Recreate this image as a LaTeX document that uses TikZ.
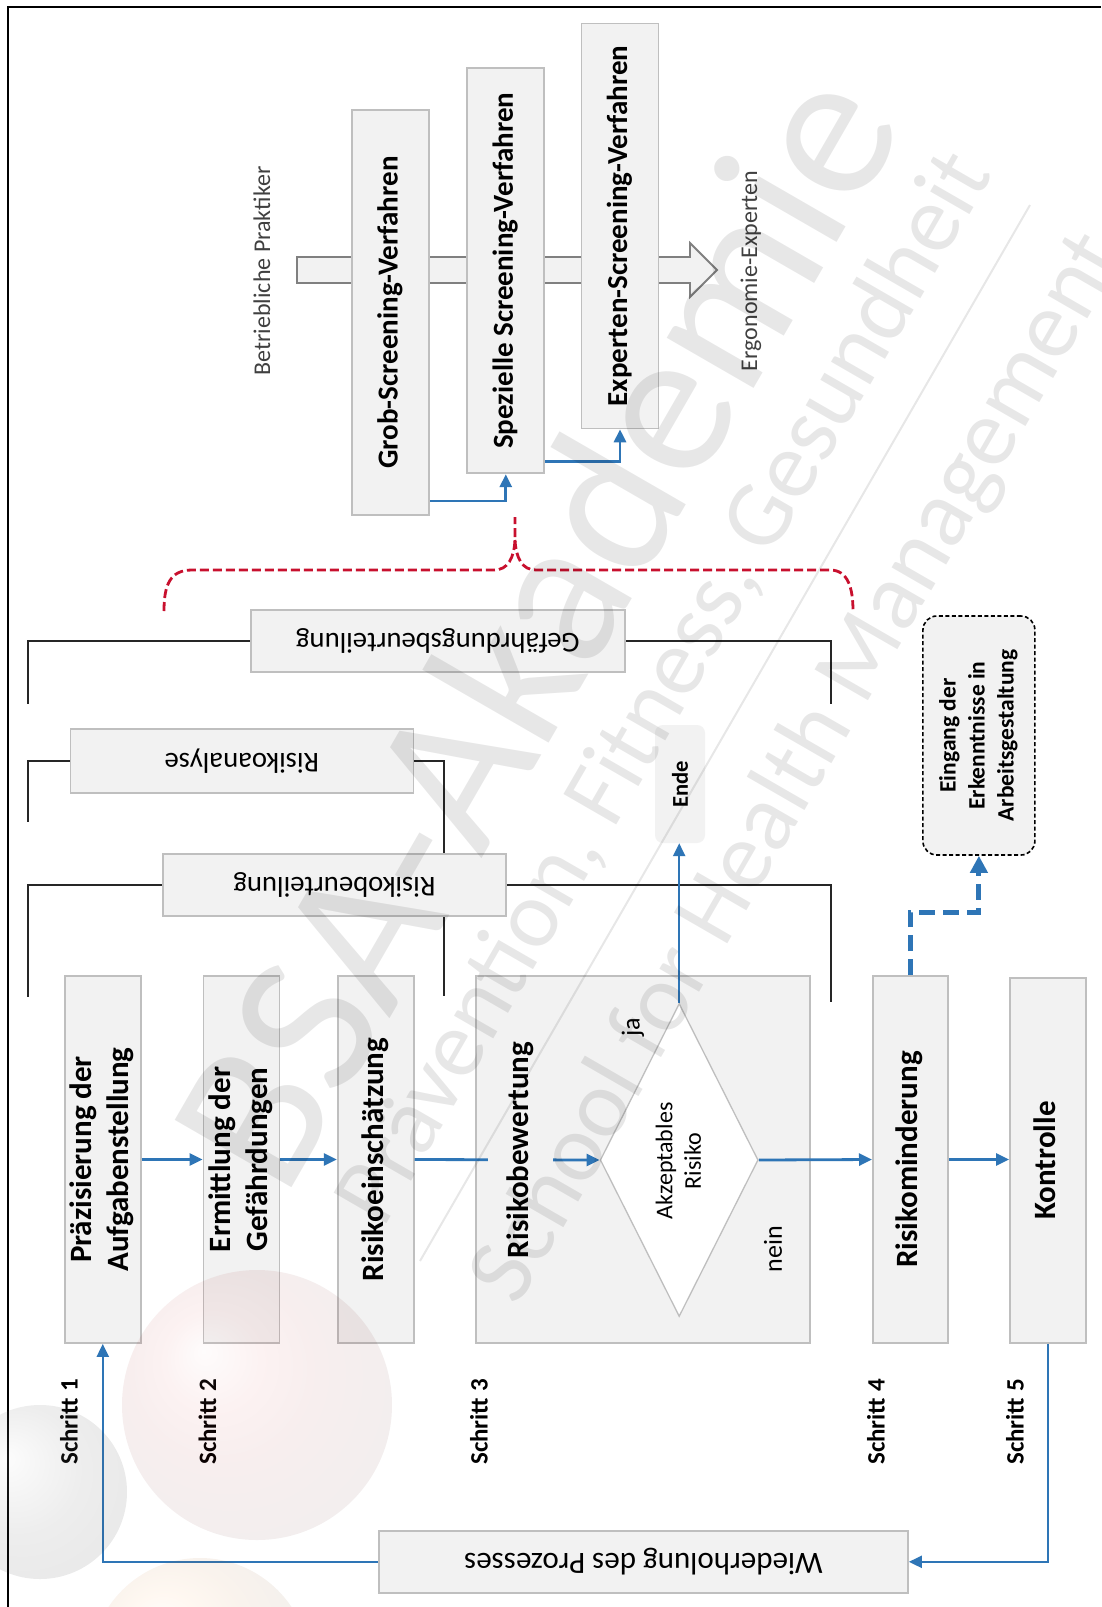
\documentclass[tikz,border=0pt]{standalone}
\usepackage{fontspec}
\setmainfont{Carlito}
\usetikzlibrary{arrows.meta,calc,shapes.geometric}
\definecolor{boxfill}{HTML}{F2F2F2}
\definecolor{boxline}{HTML}{BFBFBF}
\definecolor{arrowgray}{HTML}{808080}
\definecolor{flowblue}{HTML}{2E75B6}
\definecolor{bracered}{RGB}{200,16,46}
\definecolor{darktext}{HTML}{404040}
\pgfdeclarelayer{bg}
\pgfsetlayers{bg,main}
\newcommand{\myfs}[2]{\fontsize{#1}{#2}\selectfont}
\newcommand{\rtxt}[1]{\rotatebox{90}{\begin{tabular}{@{}c@{}}#1\end{tabular}}}
\begin{document}
\begin{tikzpicture}[x=1pt,y=-1pt,
  stepbox/.style={draw=boxline, line width=1.8pt, fill=boxfill, inner sep=0pt,
    minimum width=76pt, minimum height=367pt, font=\myfs{31}{37}\bfseries},
  scrbox/.style={draw=boxline, line width=1.8pt, fill=boxfill, inner sep=0pt,
    minimum width=77pt, minimum height=405pt, font=\myfs{29}{35}\bfseries},
  labbox/.style={draw=boxline, line width=1.8pt, fill=boxfill, inner sep=0pt,
    minimum height=62pt, font=\myfs{28.7}{34}},
  flow/.style={draw=flowblue, line width=2.8pt, -{Triangle[length=13pt,width=12pt]}},
  brk/.style={draw=black!85, line width=2pt},
  redbrace/.style={draw=bracered, line width=2.8pt, dash pattern=on 9pt off 4pt},
  schritt/.style={font=\myfs{25}{30}\bfseries},
  wm/.style={text=black, opacity=0.095}
]
\useasboundingbox (0,0) rectangle (1101,1607);
\begin{pgfonlayer}{bg}
\fill[white] (0,0) rectangle (1101,1607);
\end{pgfonlayer}

% frame
\draw[line width=2.6pt, black] (8,1607) -- (8,7) -- (1101,7);

% broad grey arrow behind screening boxes
\draw[draw=arrowgray, fill=boxfill, line width=1.8pt]
  (297,257) -- (690,257) -- (690,243) -- (717,270) -- (690,297) -- (690,283) -- (297,283) -- cycle;

% screening boxes
\node[scrbox] (grob) at (390.7,312.5) {\rtxt{Grob-Screening-Verfahren}};
\node[scrbox] (spez) at (505.8,270.8) {\rtxt{Spezielle Screening-Verfahren}};
\node[scrbox] (expt) at (620,225.9) {\rtxt{Experten-Screening-Verfahren}};
\node[font=\myfs{24}{28}, text=darktext] (prak) at (262,271) {\rotatebox{90}{Betriebliche Praktiker}};
\node[font=\myfs{24}{28}, text=darktext] (ergo) at (751,271) {\rotatebox{90}{Ergonomie-Experten}};
\draw[flow] ($(grob.south east)+(0,-15)$) -| (spez.south);
\draw[flow] ($(spez.south east)+(0,-13)$) -| (expt.south);

% red dashed brace
\draw[redbrace] (164,611) .. controls (164,585) and (170,570) .. (192,570) -- (494,570)
  .. controls (508,570) and (514,558) .. (515,540) -- (515,517);
\draw[redbrace] (515,540) .. controls (516,558) and (522,570) .. (536,570) -- (830,570)
  .. controls (848,570) and (853,588) .. (853,611);

% bracket labels
\node[labbox, minimum width=374pt] (gef) at (437.9,640.9) {\rotatebox{180}{Gefährdungsbeurteilung}};
\node[labbox, minimum width=343pt, minimum height=64pt] (ana) at (241.9,761.2) {\rotatebox{180}{Risikoanalyse}};
\node[labbox, minimum width=343pt] (beu) at (334.5,885) {\rotatebox{180}{Risikobeurteilung}};
\coordinate (gefL) at (28,704);
\coordinate (gefR) at (831,704);
\coordinate (anaL) at (28,822);
\coordinate (anaR) at (444,996);
\coordinate (beuL) at (28,997);
\coordinate (beuR) at (831,1002);
\begin{pgfonlayer}{bg}
\draw[brk] (gef.west) -| (gefL);
\draw[brk] (gef.east) -| (gefR);
\draw[brk] (ana.west) -| (anaL);
\draw[brk] (ana.east) -| (anaR);
\draw[brk] (beu.west) -| (beuL);
\draw[brk] (beu.east) -| (beuR);
\end{pgfonlayer}

% process steps
\node[stepbox] (pra) at (102.8,1159.5) {\rtxt{Präzisierung der\\Aufgabenstellung}};
\node[stepbox] (erm) at (241.5,1159.5) {\rtxt{Ermittlung der\\Gefährdungen}};
\node[stepbox] (rein) at (375.7,1159.5) {\rtxt{Risikoeinschätzung}};
\node[stepbox, minimum width=334.4pt] (rbew) at (642.8,1159.5) {};
\node[stepbox, minimum width=75pt] (rmin) at (910.4,1159.5) {\rtxt{Risikominderung}};
\node[stepbox, minimum height=365pt] (kon) at (1047.9,1160.5) {\rtxt{Kontrolle}};

\node[diamond, draw=boxline, line width=1.3pt, fill=white, minimum width=158pt,
  minimum height=313pt, inner sep=0pt] (dia) at (679.2,1160) {};
\node[font=\myfs{24}{28.5}] (akz) at (681,1161) {\rtxt{Akzeptables\\Risiko}};
\node[font=\myfs{26}{30}] (ja) at (633,1027) {\rotatebox{90}{ja}};
\node[font=\myfs{26}{30}] (nein) at (773,1249) {\rotatebox{90}{nein}};

\draw[flow] (pra.east) -- (erm.west);
\draw[flow] (erm.east) -- (rein.west);
\draw[flow] (rein.east) -- (dia.west);
\node[fill=boxfill, inner xsep=19pt, inner ysep=3pt, font=\myfs{31}{37}\bfseries]
  (rbewt) at (520,1150) {\rotatebox{90}{Risikobewertung}};
\draw[flow] (dia.east) -- (rmin.west);
\draw[flow] (rmin.east) -- (rmin.east -| kon.west);

% Ende
\node[fill=boxfill, rounded corners=8pt, minimum width=50pt, minimum height=118pt,
  inner sep=0pt, font=\myfs{22.6}{27}\bfseries] (ende) at (680,784) {\rotatebox{90}{Ende}};
\draw[flow, line width=2.5pt] (dia.north) -- (dia.north |- ende.south);

% Eingang
\node[draw=black, line width=1.6pt, dash pattern=on 4pt off 2.5pt, fill=boxfill,
  rounded corners=14pt, minimum width=112pt, minimum height=239pt, inner sep=0pt,
  font=\myfs{23.5}{29}\bfseries] (ein) at (978.9,735.5)
  {\rtxt{Eingang der\\Erkenntnisse in\\Arbeitsgestaltung}};
\draw[draw=flowblue, line width=5pt, dash pattern=on 16pt off 8pt,
  -{Triangle[length=17pt,width=17pt]}] (rmin.north) -- ++(0,-63) -| (ein.south);

% Schritt labels
\node[schritt] (s1) at (69,1422) {\rotatebox{90}{Schritt 1}};
\node[schritt] (s2) at (207.5,1422) {\rotatebox{90}{Schritt 2}};
\node[schritt] (s3) at (479,1422) {\rotatebox{90}{Schritt 3}};
\node[schritt] (s4) at (876,1422) {\rotatebox{90}{Schritt 4}};
\node[schritt] (s5) at (1015,1422) {\rotatebox{90}{Schritt 5}};

% repetition loop
\node[labbox, minimum width=529pt, minimum height=62.4pt, font=\myfs{31}{36}] (wdh)
  at (643.5,1561.8) {\rotatebox{180}{Wiederholung des Prozesses}};
\draw[flow, line width=2.5pt] (kon.south) |- (wdh.east);
\draw[flow, line width=2.5pt] (wdh.west) -| (pra.south);

% faint logo balls
\shade[ball color=red!80!black, opacity=0.065] (257,1405) circle (135pt);
\shade[ball color=gray, opacity=0.1] (40,1492) circle (87pt);
\shade[ball color=orange, opacity=0.07] (200,1668) circle (110pt);

% watermark
\node[wm, rotate=60, font=\myfs{210}{210}] (wm1) at (533,626) {BSA-Akademie};
\node[wm, rotate=60, font=\myfs{95}{95}] (wm2) at (665,688) {Prävention, Fitness, Gesundheit};
\node[wm, rotate=60, font=\myfs{96}{96}] (wm3) at (800,768) {School for Health Management};
\draw[black, opacity=0.095, line width=2pt] (420,1261) -- (1030,205);
\end{tikzpicture}
\end{document}
